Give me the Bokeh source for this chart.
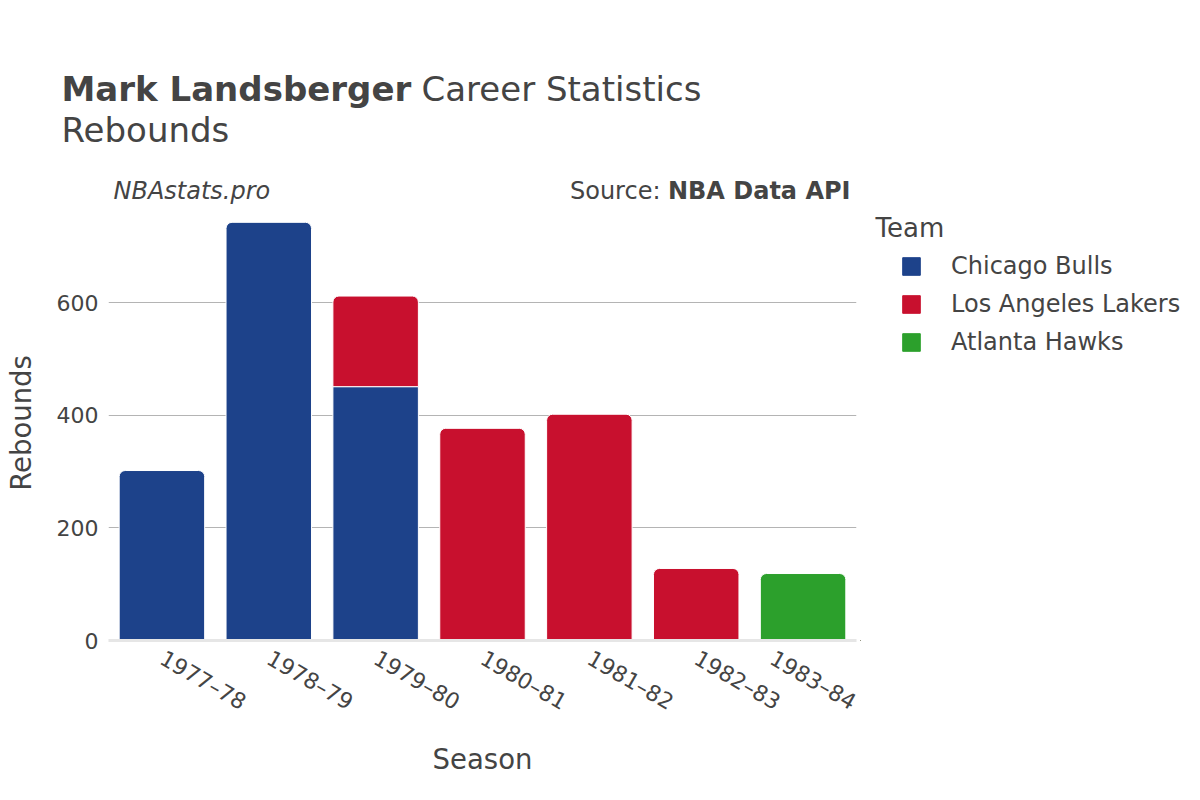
import math
from bokeh.plotting import figure
from bokeh.layouts import column, row
from bokeh.models import (FactorRange, Range1d, Label, Legend, LegendItem,
                          FixedTicker, ColumnDataSource)
from bokeh.embed import file_html
from bokeh.resources import INLINE

# ---- data ----
seasons = ["1977–78", "1978–79", "1979–80", "1980–81", "1981–82", "1982–83", "1983–84"]
teams = ["Chicago Bulls", "Los Angeles Lakers", "Atlanta Hawks"]
team_colors = ["#1d428a", "#c8102e", "#2ca02c"]
bulls_reb = [302, 743, 451, 0, 0, 0, 0]
lakers_reb = [0, 0, 161, 377, 402, 128, 0]
hawks_reb = [0, 0, 0, 0, 0, 0, 119]
y_ticks = [0, 200, 400, 600]

series = [bulls_reb, lakers_reb, hawks_reb]

FONT = "DejaVu Sans"
TXT = "#444444"


def blank_fig(w, h, **kw):
    f = figure(width=w, height=h, output_backend="svg", toolbar_location=None,
               x_axis_type=None, y_axis_type=None, min_border=0, title=None, **kw)
    f.outline_line_color = None
    f.xgrid.grid_line_color = None
    f.ygrid.grid_line_color = None
    return f


def lab(fig, text, x, y, size, style="normal", align="left"):
    fig.add_layout(Label(x=x, y=y, x_units="screen", y_units="screen", text=text,
                         text_font=FONT, text_font_size=size, text_font_style=style,
                         text_color=TXT, text_align=align, text_baseline="middle"))


# ---------------- title strip (page y 0..205) ----------------
TH = 205
tfig = blank_fig(1200, TH, x_range=Range1d(0, 1200), y_range=Range1d(0, TH))
lab(tfig, "Mark Landsberger", 61, TH - 88, "34px", "bold")
lab(tfig, "Career Statistics", 421, TH - 88, "34px")
lab(tfig, "Rebounds", 61, TH - 129, "34px")
lab(tfig, "NBAstats.pro", 113, TH - 190, "24px", "italic")
lab(tfig, "NBA Data API", 850, TH - 190, "24px", "bold", "right")
lab(tfig, "Source:", 660, TH - 190, "24px", "normal", "right")

# ---------------- main chart (page y 205..800) ----------------
MH = 800 - TH
frame_bottom = 640 - TH                       # main-figure pixels
y_top_val = 780 * frame_bottom / (640 - 201)  # keeps the reference scale

p = figure(width=860, height=MH, output_backend="svg", toolbar_location=None,
           title=None,
           x_range=FactorRange(factors=seasons, range_padding=0),
           y_range=Range1d(0, y_top_val),
           min_border_left=108, min_border_right=4,
           min_border_top=0, min_border_bottom=MH - frame_bottom)
p.outline_line_color = None

# top-most segment per season (gets rounded corners)
last_team = []
for i in range(len(seasons)):
    lt = None
    for t, s in enumerate(series):
        if s[i] > 0:
            lt = t
    last_team.append(lt)

bottoms = [0] * len(seasons)
for t, (name, col, vals) in enumerate(zip(teams, team_colors, series)):
    top_d = dict(x=[], bottom=[], top=[])
    flat_d = dict(x=[], bottom=[], top=[])
    for i, v in enumerate(vals):
        if v <= 0:
            continue
        d = top_d if last_team[i] == t else flat_d
        d["x"].append(seasons[i])
        d["bottom"].append(bottoms[i])
        d["top"].append(bottoms[i] + v)
        bottoms[i] += v
    if flat_d["x"]:
        p.vbar(x="x", bottom="bottom", top="top", width=0.8,
               source=ColumnDataSource(flat_d), fill_color=col,
               line_color="white", line_width=1)
    if top_d["x"]:
        p.vbar(x="x", bottom="bottom", top="top", width=0.8,
               source=ColumnDataSource(top_d), fill_color=col,
               line_color="white", line_width=1,
               border_radius=(6, 6, 0, 0))

p.yaxis.ticker = FixedTicker(ticks=y_ticks)
p.yaxis.axis_line_color = None
p.yaxis.major_tick_line_color = None
p.yaxis.minor_tick_line_color = None
p.yaxis.major_label_text_font = FONT
p.yaxis.major_label_text_font_size = "22px"
p.yaxis.major_label_text_color = TXT
p.yaxis.major_label_standoff = 4
p.yaxis.axis_label = "Rebounds"
p.yaxis.axis_label_text_font = FONT
p.yaxis.axis_label_text_font_size = "27.5px"
p.yaxis.axis_label_text_font_style = "normal"
p.yaxis.axis_label_text_color = TXT
p.yaxis.axis_label_standoff = 17

p.xaxis.axis_line_color = "#e6e6e6"
p.xaxis.axis_line_width = 3
p.xaxis.major_tick_line_color = None
p.xaxis.minor_tick_line_color = None
p.xaxis.major_label_orientation = -math.pi / 6
p.xaxis.major_label_text_font = FONT
p.xaxis.major_label_text_font_size = "22px"
p.xaxis.major_label_text_color = TXT
p.xaxis.major_label_standoff = 10
p.xaxis.axis_label = "Season"
p.xaxis.axis_label_text_font = FONT
p.xaxis.axis_label_text_font_size = "27.5px"
p.xaxis.axis_label_text_font_style = "normal"
p.xaxis.axis_label_text_color = TXT
p.xaxis.axis_label_standoff = 14

p.xgrid.grid_line_color = None
p.ygrid.grid_line_color = "#b4b4b4"
p.ygrid.grid_line_width = 1

# ---------------- legend strip (page x 860..1200) ----------------
lfig = blank_fig(340, MH, x_range=Range1d(0, 340), y_range=Range1d(0, MH))
lfig.min_border_bottom = MH - frame_bottom
items = []
for name, col in zip(teams, team_colors):
    # swatch renderer kept outside the visible range; only its legend glyph shows
    r = lfig.vbar(x=[-50], bottom=[-60], top=[-50], width=1,
                  fill_color=col, line_color=col)
    items.append(LegendItem(label=name, renderers=[r]))
ITEM_H = 38
legend = Legend(items=items, location=(900 - 860, 640 - 247 - ITEM_H * len(teams)),
                orientation="vertical", margin=0, padding=0, spacing=0,
                glyph_width=22, glyph_height=22, label_height=ITEM_H,
                label_standoff=29, label_text_font=FONT,
                label_text_font_size="24px", label_text_color=TXT,
                border_line_color=None, background_fill_alpha=0)
lfig.add_layout(legend)
lab(lfig, "Team", 875 - 860, 640 - 227, "26px")

layout = column(tfig, row(p, lfig, spacing=0), spacing=0)
open("out.html", "w").write(file_html(layout, INLINE))
